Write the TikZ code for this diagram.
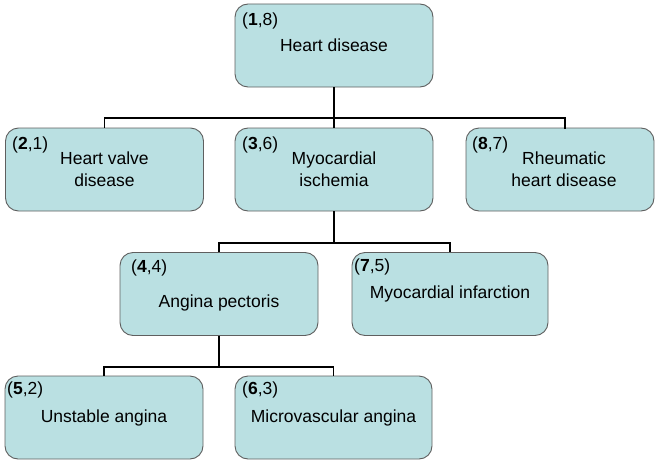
\documentclass[tikz,border=0pt]{standalone}
\usepackage{fontspec}
\setmainfont{Liberation Sans}
\definecolor{boxfill}{RGB}{186,224,226}
\definecolor{boxedge}{RGB}{95,95,95}
\begin{document}
\begin{tikzpicture}[x=1pt,y=-1pt,
  box/.style={draw=boxedge, line width=0.9pt, fill=boxfill, rounded corners=13pt,
    minimum width=198pt, minimum height=83pt, inner sep=0pt, align=center,
    font=\fontsize{17.5pt}{22pt}\selectfont},
  tag/.style={anchor=base west, inner sep=0pt, font=\fontsize{17.5pt}{21pt}\selectfont},
  link/.style={line width=1.9pt, black}]
\useasboundingbox (0,0) rectangle (655,460);

% tree nodes
\node[box] (b1) at (334,45.5) {Heart disease};
\node[box] (b2) at (104.5,169.5) {Heart valve\\disease};
\node[box] (b3) at (334,169.5) {Myocardial\\ischemia};
\node[box, minimum width=188pt] (b8) at (560,169.5) {\hspace*{8pt}Rheumatic\\\hspace*{8pt}heart disease};
\node[box, text height=31pt, text depth=4pt] (b4) at (219,294) {Angina pectoris};
\node[box, minimum width=196pt] (b7) at (450,294) {Myocardial infarction};
\node[box, minimum width=198pt] (b5) at (104,417.5) {Unstable angina};
\node[box, minimum width=197pt] (b6) at (333.5,417.5) {Microvascular angina};

% order tags in the upper left corners
\node[tag] (n1) at (242,26) {(\textbf{1},8)};
\node[tag] (n2) at (12,149) {(\textbf{2},1)};
\node[tag] (n3) at (242,149) {(\textbf{3},6)};
\node[tag] (n8) at (472,149) {(\textbf{8},7)};
\node[tag] (n4) at (131,272) {(\textbf{4},4)};
\node[tag] (n7) at (354,271) {(\textbf{7},5)};
\node[tag] (n5) at (7,394) {(\textbf{5},2)};
\node[tag] (n6) at (242,394) {(\textbf{6},3)};

% junction points of the elbow connectors
\coordinate (j1) at (334,118);
\coordinate (c8) at (565,129);
\coordinate (j2) at (334,243);
\coordinate (j3) at (219,367);

\draw[link] (b1.south) -- (j1);
\draw[link] (b2.north) |- (j1) -| (c8);
\draw[link] (b3.north) -- (j1);

\draw[link] (b3.south) -- (j2);
\draw[link] (b4.north) |- (j2) -| (b7.north);

\draw[link] (b4.south) -- (j3);
\draw[link] (b5.north) |- (j3) -| (b6.north);
\end{tikzpicture}
\end{document}
